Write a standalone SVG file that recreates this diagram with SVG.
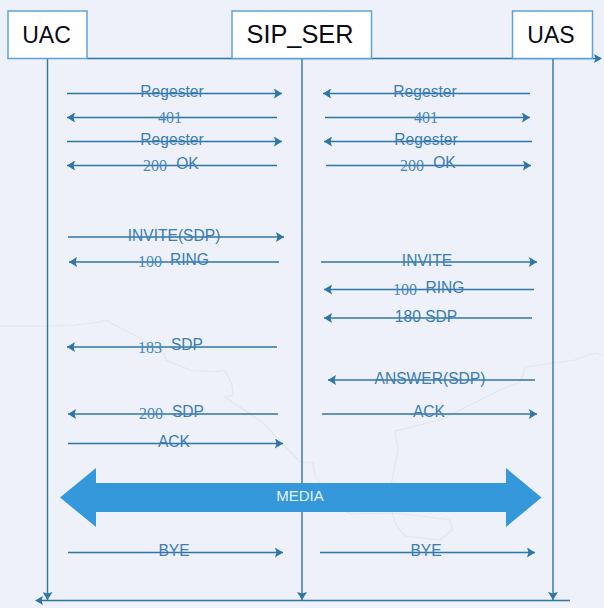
<svg xmlns="http://www.w3.org/2000/svg" width="604" height="608" viewBox="0 0 604 608">
  <style>
    .box { fill: #ffffff; stroke: #5ba3db; stroke-width: 1.5; }
    .title { font: 23px "Liberation Sans", Arial, sans-serif; fill: #0a0a14; text-anchor: middle; }
    .wire { stroke: #2e75a8; stroke-width: 1.4; fill: none; }
    .msg { stroke: #2e75a8; stroke-width: 1.4; fill: none; marker-end: url(#tip); }
    .label { font: 15.600px "Liberation Sans", Arial, sans-serif; fill: #3b7db3; text-anchor: middle; }
    .num { font: 16px "Liberation Serif", "Times New Roman", serif; fill: #4688bd; text-anchor: middle; }
    .coast { stroke: #e2e6f1; stroke-width: 1.2; fill: none; }
  </style>
  <defs>
    <marker id="tip" markerUnits="userSpaceOnUse" markerWidth="9" markerHeight="10" refX="8" refY="5" orient="auto">
      <path d="M0 0 L8 5 L0 10 L1.500 5 Z" fill="#2e75a8"/>
    </marker>
  </defs>

  <rect width="604" height="608" fill="#eef1f9"/>

  <!-- faint map outline behind the chart -->
  <g id="backdrop">
    <path class="coast" d="M0 326 L50 326 L75 325 L100 322 L105 320 L140 338 L165 355 L166 360 L190 370 L215 372 L225 370 L232 385 L233 395 L225 397 L262 422 L300 462 L313 463 L315 475 L326 495 L350 514 L395 513 L450 520 L452 530 L440 540 L405 536 L396 525 L390 505 L392 480 L398 450 L395 431 L440 420 L480 400 L500 390 L520 382 L523 375 L525 367 L575 360 L595 353 L604 355"/>
  </g>

  <g id="connectors">
    <path class="wire" d="M87 58.500 H598"/>
    <path class="wire" d="M570 600.500 H40"/>
    <path d="M35 600.500 L43 596 L41.500 600.500 L43 605 Z" fill="#2e75a8"/>
    <path d="M602 58.500 L594 54 L595.500 58.500 L594 63 Z" fill="#2e75a8"/>
    <line class="wire" x1="47.500" y1="58" x2="47.500" y2="600" marker-end="url(#tip)"/>
    <line class="wire" x1="302" y1="58" x2="302" y2="600" marker-end="url(#tip)"/>
    <line class="wire" x1="553" y1="58" x2="553" y2="600" marker-end="url(#tip)"/>

    <line class="msg" x1="67" y1="93.500" x2="282" y2="93.500"/>
    <line class="msg" x1="277" y1="117.500" x2="67" y2="117.500"/>
    <line class="msg" x1="67" y1="141.500" x2="282" y2="141.500"/>
    <line class="msg" x1="277" y1="165.500" x2="67" y2="165.500"/>
    <line class="msg" x1="68" y1="237" x2="284" y2="237"/>
    <line class="msg" x1="279" y1="262" x2="69" y2="262"/>
    <line class="msg" x1="277" y1="347" x2="67" y2="347"/>
    <line class="msg" x1="278" y1="414" x2="68" y2="414"/>
    <line class="msg" x1="68" y1="443.500" x2="283" y2="443.500"/>
    <line class="msg" x1="68" y1="552.500" x2="283" y2="552.500"/>

    <line class="msg" x1="530" y1="93.500" x2="323" y2="93.500"/>
    <line class="msg" x1="325" y1="117.500" x2="530" y2="117.500"/>
    <line class="msg" x1="532" y1="141.500" x2="324" y2="141.500"/>
    <line class="msg" x1="326" y1="165.500" x2="531" y2="165.500"/>
    <line class="msg" x1="321" y1="262" x2="537" y2="262"/>
    <line class="msg" x1="534" y1="289.500" x2="324" y2="289.500"/>
    <line class="msg" x1="532" y1="318" x2="324" y2="318"/>
    <line class="msg" x1="535" y1="380" x2="328" y2="380"/>
    <line class="msg" x1="322" y1="414" x2="537" y2="414"/>
    <line class="msg" x1="320" y1="552.500" x2="535" y2="552.500"/>
  </g>

  <g id="node-uac">
    <rect class="box" x="8" y="11" width="79" height="47.500"/>
    <text class="title" x="46.500" y="43">UAC</text>
  </g>
  <g id="node-sip-ser">
    <rect class="box" x="232" y="11" width="139.500" height="47.500"/>
    <text class="title" x="300" y="43" style="font-size:25.300px">SIP_SER</text>
  </g>
  <g id="node-uas">
    <rect class="box" x="512.500" y="11" width="80" height="47.500"/>
    <text class="title" x="551" y="43">UAS</text>
  </g>

  <g id="media">
    <path d="M60 497.500 L96 468 V483 H506 V468 L541.500 497.500 L506 527 V512 H96 V527 Z" fill="#3498db"/>
    <text x="300" y="501" style="font:15px 'Liberation Sans',Arial,sans-serif;fill:#e4f2fc;text-anchor:middle">MEDIA</text>
  </g>

  <g id="labels-left">
    <text class="label" x="172" y="97">Regester</text>
    <text class="num" x="170" y="123">401</text>
    <text class="label" x="172" y="145">Regester</text>
    <text class="num" x="155" y="171">200</text>
    <text class="label" x="187.500" y="169">OK</text>
    <text class="label" x="174" y="241">INVITE(SDP)</text>
    <text class="num" x="150" y="267">100</text>
    <text class="label" x="189.500" y="265">RING</text>
    <text class="num" x="150" y="353">183</text>
    <text class="label" x="187" y="350">SDP</text>
    <text class="num" x="151" y="419">200</text>
    <text class="label" x="188" y="417">SDP</text>
    <text class="label" x="174" y="447">ACK</text>
    <text class="label" x="174" y="556">BYE</text>
  </g>

  <g id="labels-right">
    <text class="label" x="425" y="97">Regester</text>
    <text class="num" x="426" y="123">401</text>
    <text class="label" x="426" y="145">Regester</text>
    <text class="num" x="412" y="171">200</text>
    <text class="label" x="444.500" y="168">OK</text>
    <text class="label" x="427" y="266">INVITE</text>
    <text class="num" x="405" y="295">100</text>
    <text class="label" x="445" y="293">RING</text>
    <text class="label" x="426" y="322">180 SDP</text>
    <text class="label" x="430" y="384">ANSWER(SDP)</text>
    <text class="label" x="429" y="417">ACK</text>
    <text class="label" x="426" y="556">BYE</text>
  </g>
</svg>
